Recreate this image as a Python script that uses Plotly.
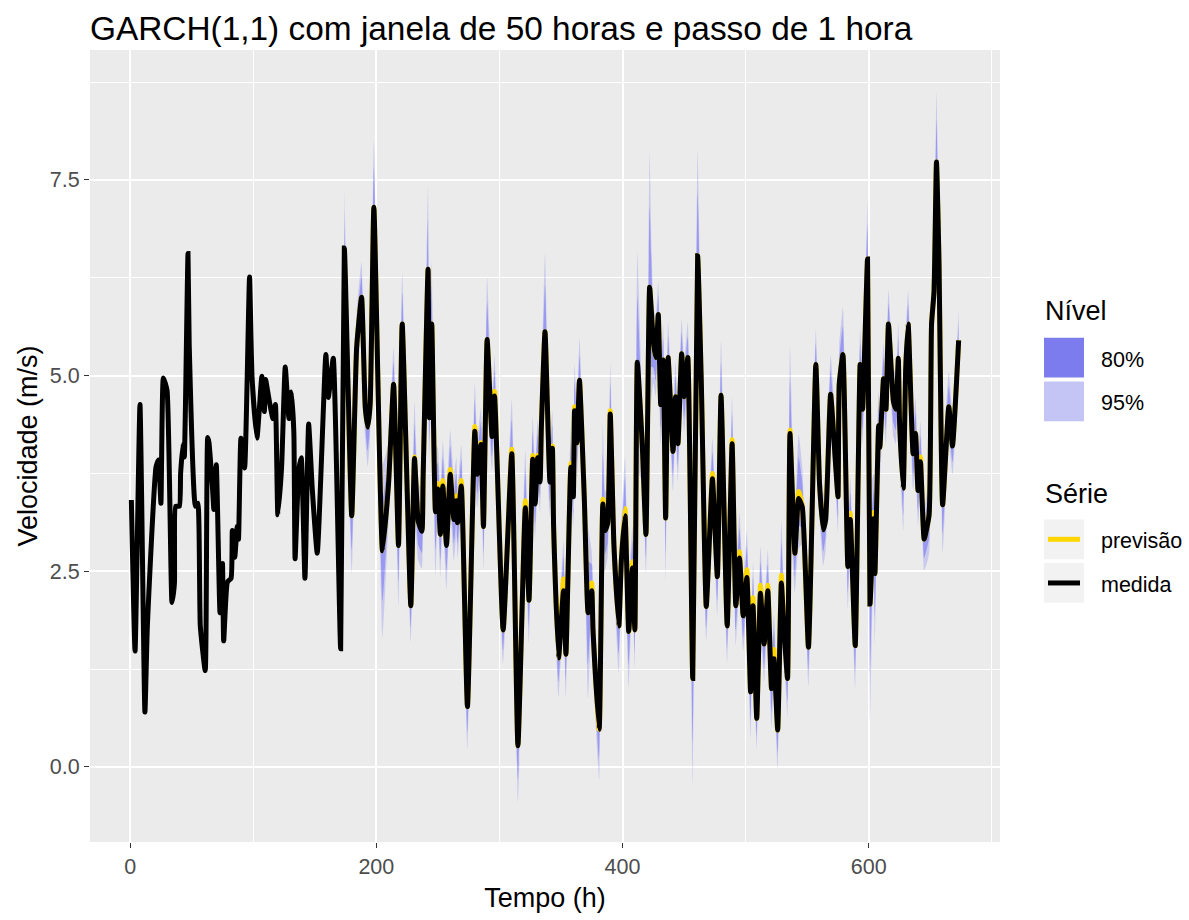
import plotly.graph_objects as go

# ---- medida: hourly wind speed (m/s), sampled at its turning points ----
horas = [
    1, 4, 8, 12, 14, 21, 23, 25, 27, 30,
    34, 36, 37, 40, 41, 43, 44, 47, 48, 53,
    55, 57, 61, 63, 64, 67, 68, 70, 73, 75,
    76, 79, 82, 83, 85, 87, 88, 90, 93, 95,
    97, 99, 103, 107, 109, 110, 113, 116, 118, 120,
    123, 126, 129, 131, 133, 134, 137, 139, 142, 145,
    148, 152, 159, 161, 165, 171,
    174, 180, 184, 188, 191, 193, 195, 198, 205, 210,
    214, 218, 221, 228, 231, 234, 237, 238, 242, 243,
    245, 248, 250, 252, 254, 257, 260, 263, 265, 266,
    269, 274, 280, 282, 285, 287, 290, 294, 296, 303,
    310, 315, 321, 324, 327, 329, 331, 333, 334, 337,
    341, 343, 344, 348, 352, 354, 358, 360, 361, 363,
    365, 369, 372, 375, 376, 381, 384, 386, 388, 390,
    393, 397, 399, 402, 405, 408, 410, 412, 416, 419,
    422, 425, 427, 429, 431, 433, 435, 437, 441, 443,
    445, 448, 450, 453, 457, 461, 464, 468, 473, 477,
    480, 485, 489, 492, 495, 498, 501, 504, 506, 509,
    512, 515, 518, 521, 523, 526, 529, 531, 534, 536,
    540, 543, 546, 551, 557, 560, 563, 565, 569, 573,
    575, 576, 579, 583, 585, 589, 593, 595, 599, 601,
    604, 605, 608, 609, 612, 614, 616, 620, 622, 624,
    625, 628, 630, 632, 636, 638, 640, 642, 645, 649,
    651, 653, 655, 657, 660, 665, 668, 673,
]
medida = [
    3.41, 1.48, 4.63, 0.70, 1.80, 3.83, 3.92, 3.37, 4.97, 4.81,
    2.10, 2.35, 3.33, 3.33, 3.75, 4.13, 3.96, 6.56, 5.39, 3.33,
    3.37, 1.80, 1.23, 4.21, 4.15, 3.54, 3.29, 3.86, 1.97, 2.60,
    1.61, 2.36, 2.41, 3.02, 2.68, 3.07, 2.91, 4.20, 3.82, 4.90,
    6.26, 4.99, 4.20, 4.99, 4.54, 4.95, 4.68, 4.45, 4.63, 3.22,
    3.82, 5.11, 4.45, 4.79, 4.27, 2.66, 3.79, 3.95, 2.41, 4.38,
    3.54, 2.73, 5.27, 4.72, 5.22, 1.51,
    6.63, 3.21, 5.36, 6.00, 4.59, 4.34, 4.64, 7.15, 2.76, 3.64,
    4.89, 2.83, 5.66, 2.06, 3.94, 3.14, 3.01, 3.69, 6.36, 4.46,
    5.66, 3.26, 3.55, 2.97, 3.59, 2.83, 3.74, 3.16, 3.40, 3.12,
    3.59, 0.77, 4.29, 3.74, 4.12, 3.07, 5.46, 4.22, 4.74, 1.75,
    4.00, 0.27, 3.31, 2.13, 3.93, 3.36, 3.95, 3.64, 4.31, 5.56,
    3.64, 4.07, 3.07, 1.39, 2.25, 1.44, 3.83, 3.45, 4.55, 4.14,
    4.94, 3.40, 1.97, 2.25, 1.75, 0.48, 3.36, 3.02, 3.12, 4.51,
    2.83, 1.80, 2.63, 3.21, 1.73, 2.54, 1.75, 5.17, 4.12, 2.97,
    6.13, 5.43, 5.23, 5.78, 4.63, 5.20, 3.18, 5.23, 4.03, 4.73,
    4.13, 5.28, 4.73, 5.23, 1.13, 6.53, 4.90, 2.05, 3.68, 2.43,
    4.75, 1.80, 4.13, 2.06, 2.67, 1.93, 2.42, 0.96, 2.06, 0.62,
    2.22, 1.57, 2.25, 1.00, 1.38, 0.47, 2.35, 1.80, 1.13, 4.26,
    2.73, 3.43, 3.32, 1.53, 5.14, 3.62, 3.03, 3.16, 4.76, 3.87,
    3.45, 4.89, 5.27, 2.56, 3.16, 1.55, 5.14, 4.57, 6.49, 2.08,
    3.17, 2.47, 4.36, 4.08, 4.96, 4.57, 5.66, 4.67, 4.57, 5.22,
    4.41, 3.56, 5.09, 5.66, 4.00, 4.26, 3.53, 3.90, 2.91, 3.22,
    5.66, 6.07, 7.73, 6.49, 3.35, 4.60, 4.10, 5.45,
]

# ---- previsão: one-step GARCH(1,1) forecast and interval half-widths ----
horas_prev = [
    174, 180, 184, 188, 191, 193, 195, 198, 205, 210,
    214, 218, 221, 228, 231, 234, 237, 238, 242, 243,
    245, 248, 250, 252, 254, 257, 260, 263, 265, 266,
    269, 274, 280, 282, 285, 287, 290, 294, 296, 303,
    310, 315, 321, 324, 327, 329, 331, 333, 334, 337,
    341, 343, 344, 348, 352, 354, 358, 360, 361, 363,
    365, 369, 372, 375, 376, 381, 384, 386, 388, 390,
    393, 397, 399, 402, 405, 408, 410, 412, 416, 419,
    422, 425, 427, 429, 431, 433, 435, 437, 441, 443,
    445, 448, 450, 453, 457, 461, 464, 468, 473, 477,
    480, 485, 489, 492, 495, 498, 501, 504, 506, 509,
    512, 515, 518, 521, 523, 526, 529, 531, 534, 536,
    540, 543, 546, 551, 557, 560, 563, 565, 569, 573,
    575, 576, 579, 583, 585, 589, 593, 595, 599, 601,
    604, 605, 608, 609, 612, 614, 616, 620, 622, 624,
    625, 628, 630, 632, 636, 638, 640, 642, 645, 649,
    651, 653, 655, 657, 660, 665, 668, 673,
]
previsao = [
    6.63, 3.21, 5.36, 6.00, 4.59, 4.34, 4.64, 7.15, 2.76, 3.66,
    4.89, 2.83, 5.66, 2.06, 3.96, 3.14, 3.03, 3.72, 6.36, 4.46,
    5.66, 3.28, 3.62, 2.97, 3.66, 2.86, 3.80, 3.18, 3.46, 3.12,
    3.66, 0.77, 4.35, 3.76, 4.14, 3.07, 5.46, 4.24, 4.80, 1.75,
    4.06, 0.27, 3.40, 2.13, 3.98, 3.38, 3.98, 3.70, 4.33, 5.56,
    3.70, 4.10, 3.07, 1.39, 2.40, 1.44, 3.88, 3.47, 4.60, 4.14,
    4.94, 3.40, 1.97, 2.35, 1.75, 0.48, 3.42, 3.02, 3.14, 4.55,
    2.83, 1.80, 2.66, 3.30, 1.73, 2.62, 1.75, 5.17, 4.14, 2.97,
    6.13, 5.40, 5.23, 5.78, 4.63, 5.20, 3.18, 5.23, 4.03, 4.73,
    4.13, 5.28, 4.73, 5.23, 1.13, 6.53, 4.90, 2.05, 3.75, 2.43,
    4.75, 1.80, 4.18, 2.06, 2.75, 1.93, 2.52, 0.96, 2.16, 0.62,
    2.32, 1.57, 2.32, 1.00, 1.50, 0.47, 2.45, 1.90, 1.13, 4.30,
    2.73, 3.52, 3.34, 1.53, 5.14, 3.62, 3.03, 3.22, 4.76, 3.95,
    3.45, 4.89, 5.27, 2.56, 3.24, 1.55, 5.14, 4.57, 6.49, 2.08,
    3.25, 2.47, 4.36, 4.08, 4.96, 4.57, 5.66, 4.67, 4.57, 5.22,
    4.48, 3.56, 5.09, 5.66, 4.00, 4.26, 3.53, 3.96, 2.91, 3.22,
    5.66, 6.07, 7.73, 6.49, 3.35, 4.60, 4.14, 5.45,
]
meia95 = [
    0.75, 0.75, 0.45, 0.45, 0.40, 0.50, 0.40, 0.85, 1.10, 0.50,
    0.47, 0.77, 0.65, 0.46, 0.70, 0.50, 0.50, 0.45, 1.06, 0.50,
    0.80, 0.84, 0.45, 0.55, 0.50, 0.60, 0.50, 0.55, 0.50, 0.45,
    0.45, 0.55, 0.55, 0.45, 0.45, 0.55, 0.80, 0.45, 0.45, 0.43,
    0.63, 0.72, 0.64, 0.55, 0.50, 0.45, 0.45, 0.45, 0.40, 1.00,
    0.50, 0.45, 0.45, 0.50, 0.48, 0.55, 0.45, 0.40, 0.55, 0.45,
    0.54, 0.50, 1.10, 0.40, 0.45, 0.65, 0.96, 0.50, 0.45, 0.60,
    0.50, 0.60, 0.45, 0.66, 0.72, 0.45, 0.50, 1.40, 0.50, 0.50,
    1.70, 0.50, 0.50, 0.42, 0.50, 0.45, 0.80, 0.45, 0.50, 0.45,
    0.50, 0.45, 0.45, 0.45, 1.36, 1.35, 0.50, 0.45, 0.45, 0.50,
    0.70, 0.47, 0.55, 0.50, 0.50, 0.45, 0.50, 0.60, 0.45, 0.40,
    0.50, 0.50, 0.45, 0.50, 0.45, 0.50, 0.70, 0.45, 0.50, 1.06,
    0.50, 0.73, 0.50, 0.50, 0.45, 0.45, 0.46, 0.45, 0.50, 0.45,
    0.45, 0.50, 0.60, 0.56, 0.45, 0.55, 0.45, 0.45, 0.72, 1.50,
    0.50, 0.90, 0.45, 0.45, 0.45, 0.45, 0.44, 0.45, 0.45, 0.45,
    0.50, 0.55, 0.45, 0.42, 0.45, 0.45, 0.45, 0.45, 0.40, 0.50,
    0.50, 0.50, 0.90, 0.50, 0.62, 0.45, 0.40, 0.40,
]
meia80 = [
    0.45, 0.45, 0.27, 0.27, 0.24, 0.30, 0.24, 0.50, 0.65, 0.30,
    0.28, 0.46, 0.39, 0.28, 0.42, 0.30, 0.30, 0.27, 0.64, 0.30,
    0.48, 0.50, 0.27, 0.33, 0.30, 0.36, 0.30, 0.33, 0.30, 0.27,
    0.27, 0.33, 0.33, 0.27, 0.27, 0.33, 0.48, 0.27, 0.27, 0.26,
    0.38, 0.43, 0.38, 0.33, 0.30, 0.27, 0.27, 0.27, 0.24, 0.60,
    0.30, 0.27, 0.27, 0.30, 0.29, 0.33, 0.27, 0.24, 0.33, 0.27,
    0.32, 0.30, 0.66, 0.24, 0.27, 0.39, 0.58, 0.30, 0.27, 0.36,
    0.30, 0.36, 0.27, 0.40, 0.43, 0.27, 0.30, 0.84, 0.30, 0.30,
    1.02, 0.30, 0.30, 0.25, 0.30, 0.27, 0.48, 0.27, 0.30, 0.27,
    0.30, 0.27, 0.27, 0.27, 0.82, 0.81, 0.30, 0.27, 0.27, 0.30,
    0.42, 0.28, 0.33, 0.30, 0.30, 0.27, 0.30, 0.36, 0.27, 0.24,
    0.30, 0.30, 0.27, 0.30, 0.27, 0.30, 0.42, 0.27, 0.30, 0.64,
    0.30, 0.44, 0.30, 0.30, 0.27, 0.27, 0.28, 0.27, 0.30, 0.27,
    0.27, 0.30, 0.36, 0.34, 0.27, 0.33, 0.27, 0.27, 0.43, 0.90,
    0.30, 0.54, 0.27, 0.27, 0.27, 0.27, 0.26, 0.27, 0.27, 0.27,
    0.30, 0.33, 0.27, 0.25, 0.27, 0.27, 0.27, 0.27, 0.24, 0.30,
    0.30, 0.30, 0.54, 0.30, 0.37, 0.27, 0.24, 0.24,
]

x_ticks = [0, 200, 400, 600]
y_ticks = [0.0, 2.5, 5.0, 7.5]

for name, seq in [("previsao", previsao), ("meia95", meia95), ("meia80", meia80)]:
    if len(seq) != len(horas_prev):
        raise ValueError(f"{name}: {len(seq)} != {len(horas_prev)}")
if len(medida) != len(horas):
    raise ValueError(f"medida: {len(medida)} != {len(horas)}")

FONT = "Liberation Sans, Arial, sans-serif"
W, H = 1189, 920
ML, MR, MT, MB = 90, 189, 50, 72
PW, PH = W - ML - MR, H - MT - MB
SMOOTH = 0.45

fig = go.Figure()

# prediction intervals (95% underneath, 80% on top)
bands = [("95%", meia95, "rgba(0,0,255,0.14)"), ("80%", meia80, "rgba(0,0,255,0.24)")]
for label, half, color in bands:
    lo = [p - h for p, h in zip(previsao, half)]
    hi = [p + h for p, h in zip(previsao, half)]
    fig.add_trace(go.Scatter(x=horas_prev, y=lo, mode="lines",
                             line=dict(width=0, shape="spline", smoothing=SMOOTH),
                             hoverinfo="skip", showlegend=False))
    fig.add_trace(go.Scatter(x=horas_prev, y=hi, mode="lines",
                             line=dict(width=0, shape="spline", smoothing=SMOOTH),
                             fill="tonexty", fillcolor=color, name=label,
                             hoverinfo="skip", showlegend=False))

fig.add_trace(go.Scatter(x=horas_prev, y=previsao, mode="lines", name="previsão",
                         line=dict(color="#FFD700", width=5, shape="spline", smoothing=SMOOTH),
                         showlegend=False))
fig.add_trace(go.Scatter(x=horas, y=medida, mode="lines", name="medida",
                         line=dict(color="black", width=5, shape="spline", smoothing=SMOOTH),
                         showlegend=False))


def fx(px):
    return (px - ML) / PW


def fy(py):
    return (H - MB - py) / PH


shapes = []
annotations = []

# legend: Nível
annotations.append(dict(x=fx(1043), y=fy(313), text="Nível", showarrow=False,
                        xref="paper", yref="paper", xanchor="left", yanchor="middle",
                        font=dict(family=FONT, size=27, color="black")))
for (label, fill), yc in zip([("80%", "#7C7CEE"), ("95%", "#C4C4F5")], [360, 404]):
    shapes.append(dict(type="rect", xref="paper", yref="paper",
                       x0=fx(1044), x1=fx(1084), y0=fy(yc - 20), y1=fy(yc + 20),
                       fillcolor=fill, line=dict(width=0)))
    annotations.append(dict(x=fx(1099), y=fy(yc + 2), text=label, showarrow=False,
                            xref="paper", yref="paper", xanchor="left", yanchor="middle",
                            font=dict(family=FONT, size=21.5, color="black")))

# legend: Série
annotations.append(dict(x=fx(1043), y=fy(497), text="Série", showarrow=False,
                        xref="paper", yref="paper", xanchor="left", yanchor="middle",
                        font=dict(family=FONT, size=27, color="black")))
for (label, col), yc in zip([("previsão", "#FFD700"), ("medida", "black")], [543, 587]):
    shapes.append(dict(type="rect", xref="paper", yref="paper",
                       x0=fx(1044), x1=fx(1084), y0=fy(yc - 20), y1=fy(yc + 20),
                       fillcolor="#F2F2F2", line=dict(width=0)))
    shapes.append(dict(type="line", xref="paper", yref="paper",
                       x0=fx(1048), x1=fx(1080), y0=fy(yc), y1=fy(yc),
                       line=dict(color=col, width=5)))
    annotations.append(dict(x=fx(1099), y=fy(yc + 2), text=label, showarrow=False,
                            xref="paper", yref="paper", xanchor="left", yanchor="middle",
                            font=dict(family=FONT, size=21.5, color="black")))

axis_common = dict(
    showgrid=True, gridcolor="white", gridwidth=2,
    zeroline=False, showline=False,
    ticks="outside", ticklen=5, tickwidth=1.2, tickcolor="#333333",
    tickfont=dict(family=FONT, size=21.5, color="#4D4D4D"),
)

fig.update_layout(
    width=W, height=H,
    margin=dict(l=ML, r=MR, t=MT, b=MB),
    paper_bgcolor="white", plot_bgcolor="#EBEBEB",
    font=dict(family=FONT, color="black"),
    title=dict(text="GARCH(1,1) com janela de 50 horas e passo de 1 hora",
               x=fx(90), xanchor="left", xref="paper",
               y=(H - 28) / H, yanchor="middle", yref="container",
               font=dict(family=FONT, size=33.4, color="black")),
    xaxis=dict(range=[-32.6, 706.6], tickvals=x_ticks, ticktext=[str(v) for v in x_ticks],
               minor=dict(tickvals=[100, 300, 500, 700], showgrid=True,
                          gridcolor="white", gridwidth=1, ticks=""),
               title=dict(text="Tempo (h)", standoff=10,
                          font=dict(family=FONT, size=27, color="black")),
               **axis_common),
    yaxis=dict(range=[-0.96, 9.16], tickvals=y_ticks, ticktext=[f"{v:.1f}" for v in y_ticks],
               minor=dict(tickvals=[1.25, 3.75, 6.25, 8.75], showgrid=True,
                          gridcolor="white", gridwidth=1, ticks=""),
               title=dict(text="Velocidade (m/s)", standoff=4,
                          font=dict(family=FONT, size=27, color="black")),
               **axis_common),
    shapes=shapes,
    annotations=annotations,
    showlegend=False,
)

fig.write_html("out.html")
